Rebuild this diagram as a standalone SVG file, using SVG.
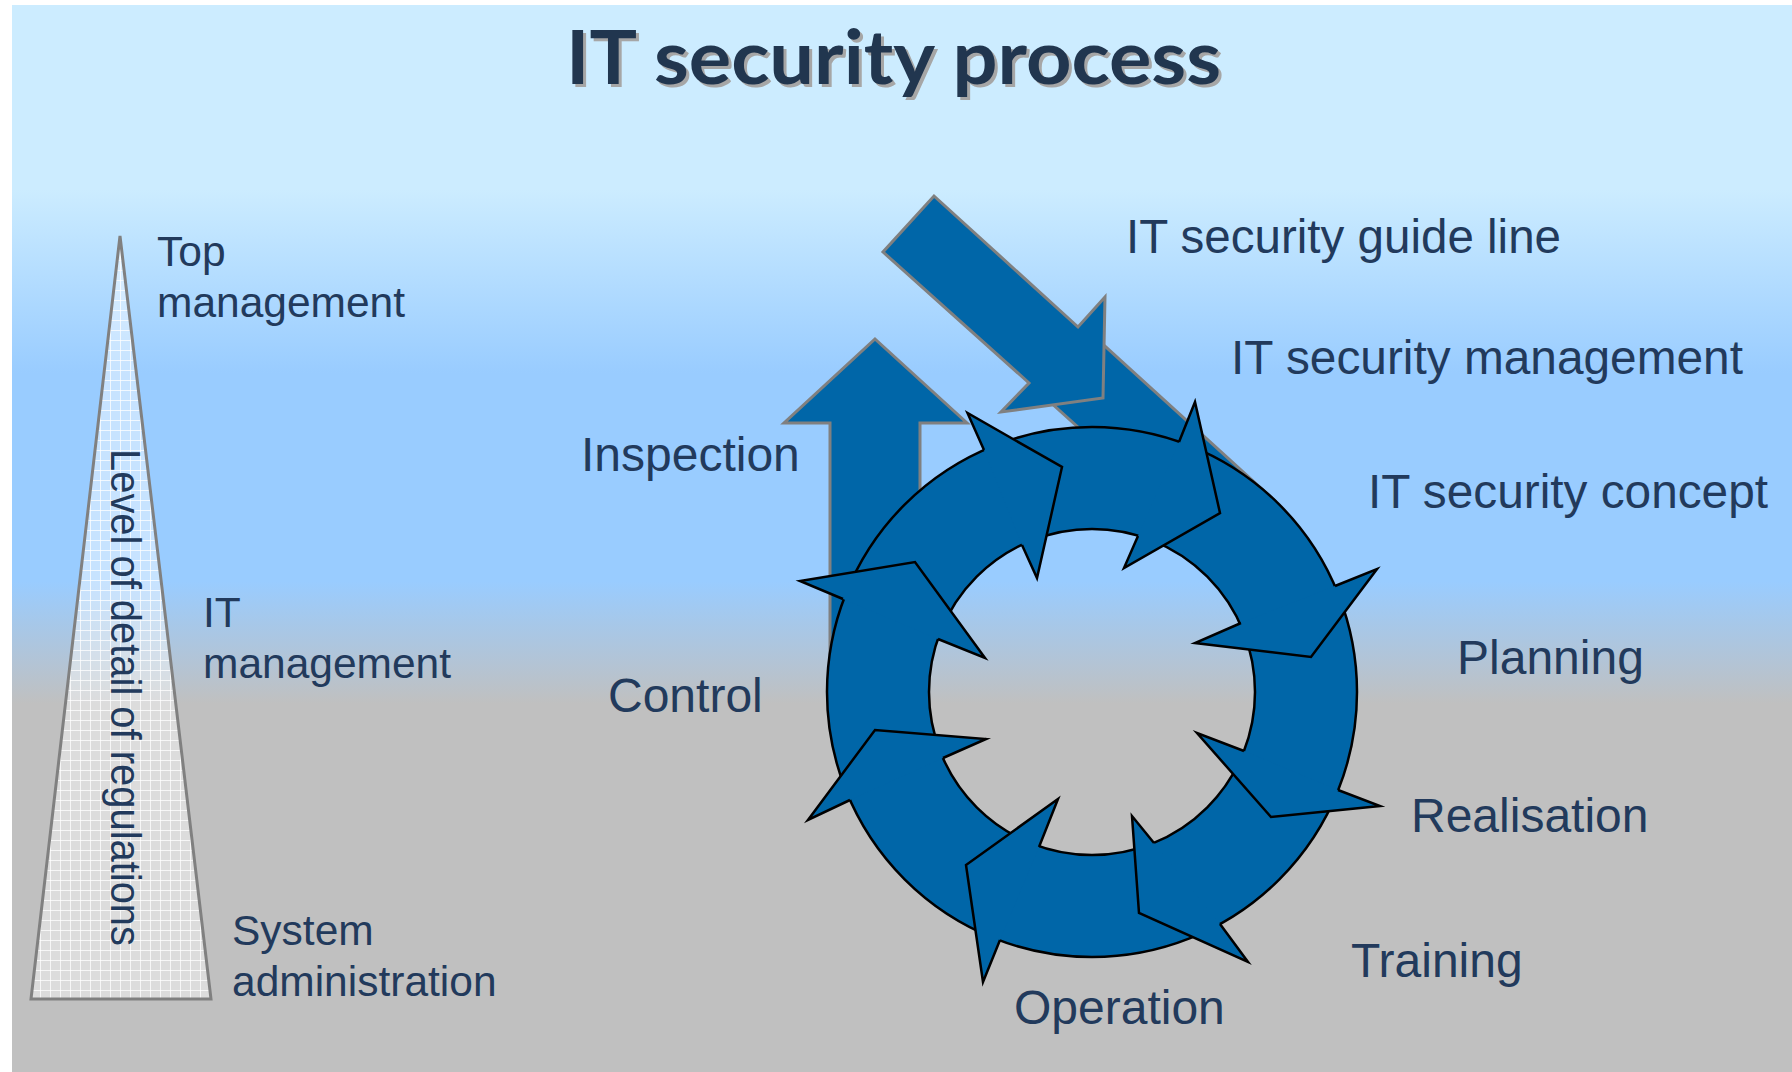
<svg xmlns="http://www.w3.org/2000/svg" width="1792" height="1072" viewBox="0 0 1792 1072">
<defs>
<linearGradient id="bg" gradientUnits="userSpaceOnUse" x1="0" y1="5" x2="0" y2="1072">
<stop offset="0" stop-color="#CCECFF"/>
<stop offset="0.173" stop-color="#CCECFF"/>
<stop offset="0.345" stop-color="#99CCFF"/>
<stop offset="0.54" stop-color="#99CCFF"/>
<stop offset="0.655" stop-color="#C0C0C0"/>
<stop offset="1" stop-color="#C0C0C0"/>
</linearGradient>
<pattern id="grid" patternUnits="userSpaceOnUse" width="10" height="10">
<rect width="10" height="10" fill="#FFFFFF" fill-opacity="0.45"/>
<path d="M0 0.5H10M0.5 0V10" stroke="#FFFFFF" stroke-opacity="0.75" stroke-width="1"/>
</pattern>
<style>
.lbl{font-family:"Liberation Sans",Arial,sans-serif;fill:#223A5C;}
.r{font-size:48px;}
.l{font-size:42.5px;}
.ttl{font-family:Lato,"Liberation Sans",sans-serif;font-weight:bold;font-size:75px;}
.garrow{fill:#0066A8;stroke:#808080;stroke-width:3;stroke-linejoin:miter;}
.ring{fill:#0066A8;stroke:#000000;stroke-width:2.5;fill-rule:evenodd;}
.hf{fill:#0066A8;stroke:none;}
.hs{fill:none;stroke:#000000;stroke-width:2.5;stroke-linejoin:miter;stroke-miterlimit:10;}
</style>
</defs>
<rect x="0" y="0" width="1792" height="1072" fill="#FFFFFF"/>
<rect x="12" y="5" width="1780" height="1067" fill="url(#bg)"/>

<g id="title">
<text x="569" y="87" class="ttl" fill="#A6A6A6" textLength="655" lengthAdjust="spacingAndGlyphs">IT security process</text>
<text x="566" y="84" class="ttl" fill="#21364F" textLength="655" lengthAdjust="spacingAndGlyphs">IT security process</text>
</g>

<g id="pyramid">
<polygon points="120,236 31,999 211,999" fill="url(#grid)" stroke="#808080" stroke-width="3" stroke-linejoin="miter"/>
<text class="lbl" font-size="43" transform="translate(111,449) rotate(90)" textLength="497" lengthAdjust="spacingAndGlyphs">Level of detail of regulations</text>
</g>

<g id="level-labels">
<text class="lbl l" x="157" y="266">Top</text>
<text class="lbl l" x="157" y="317">management</text>
<text class="lbl l" x="203" y="627">IT</text>
<text class="lbl l" x="203" y="678">management</text>
<text class="lbl l" x="232" y="945">System</text>
<text class="lbl l" x="232" y="996">administration</text>
</g>

<g id="connectors">
<polygon class="garrow" points="1029,383 1097,339 1275,501 1221,556"/>
<polygon class="garrow" points="875,339 967,423 920,423 920,720 830,720 830,423 784,423"/>
<polygon class="garrow" points="934,196 1078,327 1105,297 1103,398 1001,412 1029,383 883,252"/>
</g>

<g id="cycle">
<path class="ring" d="M827,692a265,265 0 1,0 530,0a265,265 0 1,0 -530,0ZM929,692a163,163 0 1,0 326,0a163,163 0 1,0 -326,0Z"/>
<g id="head-a"><path class="hf" d="M984,450L967.5,413L1062,467L1037,578L1022,545Z"/><path class="hs" d="M984,450L967.5,413L1062,467L1037,578L1022,545"/></g>
<g id="head-b"><path class="hf" d="M1179,442L1195,402L1220,513L1124,568L1138,536Z"/><path class="hs" d="M1179,442L1195,402L1220,513L1124,568L1138,536"/></g>
<g id="head-c"><path class="hf" d="M1335,586L1377,569L1311,657L1195,643L1241,623Z"/><path class="hs" d="M1335,586L1377,569L1311,657L1195,643L1241,623"/></g>
<g id="head-d"><path class="hf" d="M1338,790L1380,806L1271,817L1197,733L1244,751Z"/><path class="hs" d="M1338,790L1380,806L1271,817L1197,733L1244,751"/></g>
<g id="head-e"><path class="hf" d="M1220,924L1248,962L1139,913L1132,816L1154,843Z"/><path class="hs" d="M1220,924L1248,962L1139,913L1132,816L1154,843"/></g>
<g id="head-f"><path class="hf" d="M1000,940L983,982L966,865L1058,799L1039,847Z"/><path class="hs" d="M1000,940L983,982L966,865L1058,799L1039,847"/></g>
<g id="head-g"><path class="hf" d="M850,800L808,820L875,730L986,739L943,758Z"/><path class="hs" d="M850,800L808,820L875,730L986,739L943,758"/></g>
<g id="head-h"><path class="hf" d="M843,599L800,581L915,562L985,658L938,639Z"/><path class="hs" d="M843,599L800,581L915,562L985,658L938,639"/></g>
</g>

<g id="process-labels">
<text class="lbl r" x="1126" y="253" textLength="435" lengthAdjust="spacingAndGlyphs">IT security guide line</text>
<text class="lbl r" x="1231" y="374" textLength="512" lengthAdjust="spacingAndGlyphs">IT security management</text>
<text class="lbl r" x="1368" y="508" textLength="400" lengthAdjust="spacingAndGlyphs">IT security concept</text>
<text class="lbl r" x="1457" y="674">Planning</text>
<text class="lbl r" x="1411" y="832">Realisation</text>
<text class="lbl r" x="1351" y="977">Training</text>
<text class="lbl r" x="1014" y="1024">Operation</text>
<text class="lbl r" x="581" y="471">Inspection</text>
<text class="lbl r" x="608" y="712">Control</text>
</g>
</svg>
